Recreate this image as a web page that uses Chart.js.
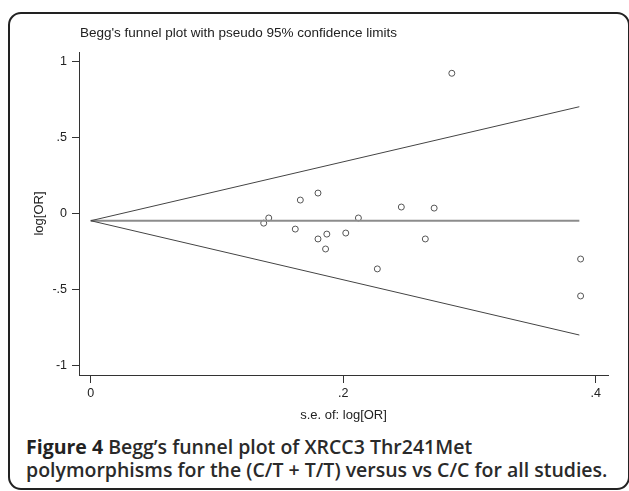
<!DOCTYPE html>
<html>
<head>
<meta charset="utf-8">
<script src="https://cdn.jsdelivr.net/npm/chart.js@4.4.0/dist/chart.umd.min.js"></script>
<style>
  html, body { margin: 0; padding: 0; background: #fff; }
  body { width: 629px; height: 491px; position: relative; overflow: hidden; }
  #frame { position: absolute; left: 8px; top: 12px; width: 622px; height: 478px;
           border: 2px solid #222; border-radius: 13px; box-sizing: border-box; }
  #plot { position: absolute; left: 0; top: 0; }
  #title { position: absolute; left: 80px; top: 25px; font: 13.5px "Liberation Sans", Arial, sans-serif;
           color: #222; line-height: 16px; white-space: nowrap; }
  #caption { position: absolute; left: 26px; top: 435px; font: 600 19.5px "Open Sans", sans-serif;
             color: #2a2a2a; line-height: 23px; white-space: nowrap; }
  #caption b { font-weight: 700; color: #222; }
</style>
</head>
<body>
<div id="frame"></div>
<canvas id="plot" width="629" height="423"></canvas>
<div id="title">Begg's funnel plot with pseudo 95% confidence limits</div>
<div id="caption"><b>Figure 4</b> Begg’s funnel plot of XRCC3 Thr241Met<br>polymorphisms for the (C/T + T/T) versus vs C/C for all studies.</div>
<script>
// studies: standard error and log odds ratio
const seLogOR = [0.137, 0.141, 0.162, 0.166, 0.180, 0.180, 0.187, 0.186, 0.202, 0.212, 0.227, 0.246, 0.265, 0.272, 0.286, 0.388, 0.388];
const logOR   = [-0.062, -0.028, -0.101, 0.090, 0.136, -0.166, -0.134, -0.232, -0.127, -0.028, -0.363, 0.044, -0.166, 0.037, 0.924, -0.298, -0.541];

// pseudo 95% limits and pooled line (end points)
const limitSE = [0, 0.387];
const pooledLine = [-0.046, -0.046];
const upperLimit = [-0.046, 0.704];
const lowerLimit = [-0.046, -0.798];

// axis ticks
const xTicks = [0, 0.2, 0.4];
const xTickLabels = ['0', '.2', '.4'];
const yTicks = [-1, -0.5, 0, 0.5, 1];
const yTickLabels = ['-1', '-.5', '0', '.5', '1'];

const toPoints = (xs, ys) => xs.map((x, i) => ({ x: x, y: ys[i] }));
const ink = '#333';
const family = '"Liberation Sans", Arial, sans-serif';

new Chart(document.getElementById('plot'), {
  type: 'scatter',
  data: {
    datasets: [
      { data: toPoints(limitSE, upperLimit), showLine: true, borderColor: '#444', borderWidth: 1, pointRadius: 0 },
      { data: toPoints(limitSE, lowerLimit), showLine: true, borderColor: '#444', borderWidth: 1, pointRadius: 0 },
      { data: toPoints(limitSE, pooledLine), showLine: true, borderColor: '#8c8c8c', borderWidth: 2, pointRadius: 0 },
      { data: toPoints(seLogOR, logOR), pointStyle: 'circle', pointRadius: 3, borderColor: '#555',
        borderWidth: 1, backgroundColor: 'rgba(255,255,255,0)' }
    ]
  },
  options: {
    responsive: false,
    animation: false,
    devicePixelRatio: 1,
    layout: { padding: { top: 52, right: 21, left: 0, bottom: 0 } },
    plugins: { legend: { display: false }, tooltip: { enabled: false } },
    scales: {
      x: {
        type: 'linear', min: -0.0093, max: 0.4097,
        afterBuildTicks: s => { s.ticks = xTicks.map(v => ({ value: v })); },
        afterFit: s => { s.height = 48; },
        ticks: { callback: v => xTickLabels[xTicks.indexOf(v)], font: { family: family, size: 12.5 },
                 color: '#222', padding: 3, maxRotation: 0 },
        grid: { drawOnChartArea: false, drawTicks: true, tickLength: 8, color: ink },
        border: { display: true, color: ink, width: 1 },
        title: { display: true, text: 's.e. of: log[OR]', color: '#222', padding: 0,
                 font: { family: family, size: 13 } }
      },
      y: {
        type: 'linear', min: -1.061, max: 1.064,
        afterBuildTicks: s => { s.ticks = yTicks.map(v => ({ value: v })); },
        afterFit: s => { s.width = 79; },
        ticks: { callback: v => yTickLabels[yTicks.indexOf(v)], font: { family: family, size: 12.5 },
                 color: '#222', padding: 5 },
        grid: { drawOnChartArea: false, drawTicks: true, tickLength: 7, color: ink },
        border: { display: true, color: ink, width: 1 },
        title: { display: true, text: 'log[OR]', color: '#222', padding: { top: 32, bottom: 0 },
                 font: { family: family, size: 13 } }
      }
    }
  }
});
</script>
</body>
</html>
